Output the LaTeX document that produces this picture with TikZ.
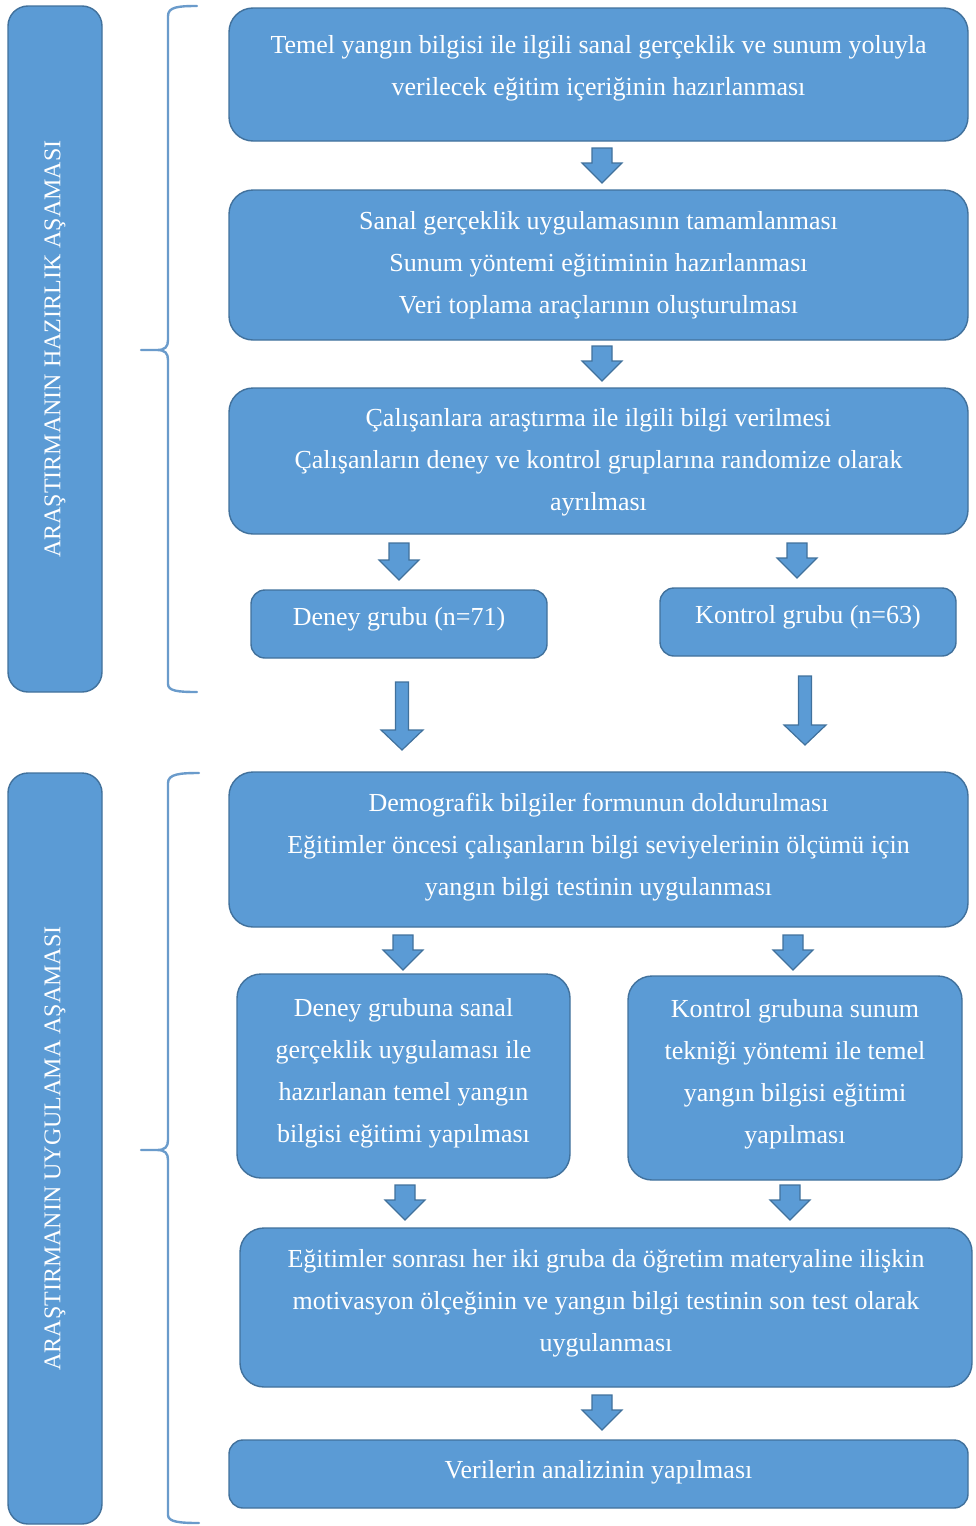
\documentclass[tikz,border=0pt]{standalone}
\usepackage{fontspec}
\setmainfont{Liberation Serif}
\usetikzlibrary{calc}
\definecolor{boxc}{HTML}{5B9BD5}
\definecolor{bordc}{HTML}{41719C}
\definecolor{bracec}{HTML}{6A9BCB}
\newcommand{\bigarrow}[5]{%
\draw[barrow] let \p1=(#1), \p2=(#2) in
 (\x1-#3,\y1) -- (\x1+#3,\y1) -- (\x1+#3,\y2+#5) -- (\x1+#4,\y2+#5) -- (\x2,\y2)
 -- (\x1-#4,\y2+#5) -- (\x1-#3,\y2+#5) -- cycle;}
\newcommand{\up}[2]{\raisebox{#1}[\height][\depth]{\begin{tabular}{@{}c@{}}#2\end{tabular}}}
\begin{document}
\begin{tikzpicture}[x=1pt,y=-1pt,
 box/.style={draw=bordc, fill=boxc, line width=1.4pt, rounded corners=24pt, text=white,
   align=center, font=\fontsize{26}{42}\selectfont, inner sep=0pt},
 smallbox/.style={box, rounded corners=14pt},
 sidebar/.style={draw=bordc, fill=boxc, line width=1.4pt, rounded corners=20pt, inner sep=0pt,
   minimum width=94pt},
 sidetext/.style={text=white, rotate=90, font=\fontsize{24}{28}\selectfont},
 barrow/.style={draw=bordc, fill=boxc, line width=1.2pt, line join=miter},
 bracestyle/.style={draw=bracec, line width=2.4pt, line cap=round, line join=round}]
\useasboundingbox (0,0) rectangle (975,1526);

% side bars
\node[sidebar, minimum height=686pt] (lb1) at (55,349) {};
\node[sidetext] (lt1) at (lb1.center) {ARAŞTIRMANIN HAZIRLIK AŞAMASI};
\node[sidebar, minimum height=751pt] (lb2) at (55,1148.5) {};
\node[sidetext] (lt2) at (lb2.center) {ARAŞTIRMANIN UYGULAMA AŞAMASI};

% braces
\draw[bracestyle] (197,6) .. controls (178,6) and (168,7) .. (168,16) -- (168,340)
  .. controls (168,347) and (165,350) .. (157,350) -- (141,350) -- (157,350)
  .. controls (165,350) and (168,353) .. (168,360) -- (168,684)
  .. controls (168,691) and (178,692) .. (197,692);
\draw[bracestyle] (199,773) .. controls (180,773) and (168,774) .. (168,783) -- (168,1140)
  .. controls (168,1147) and (165,1150) .. (157,1150) -- (141,1150) -- (157,1150)
  .. controls (165,1150) and (168,1153) .. (168,1160) -- (168,1515)
  .. controls (168,1522) and (180,1523) .. (199,1523);

% boxes
\node[box, minimum width=739pt, minimum height=133pt] (b1) at (598.5,74.5)
 {\up{8pt}{Temel yangın bilgisi ile ilgili sanal gerçeklik ve sunum yoluyla\\verilecek eğitim içeriğinin hazırlanması}};
\node[box, minimum width=739pt, minimum height=150pt] (b2) at (598.5,265)
 {\up{2pt}{Sanal gerçeklik uygulamasının tamamlanması\\Sunum yöntemi eğitiminin hazırlanması\\Veri toplama araçlarının oluşturulması}};
\node[box, minimum width=739pt, minimum height=146pt] (b3) at (598.5,461)
 {\up{1pt}{Çalışanlara araştırma ile ilgili bilgi verilmesi\\Çalışanların deney ve kontrol gruplarına randomize olarak\\ayrılması}};
\node[smallbox, minimum width=296pt, minimum height=68pt] (bd) at (399,624)
 {\up{7pt}{Deney grubu (n=71)}};
\node[smallbox, minimum width=296pt, minimum height=68pt] (bk) at (808,622)
 {\up{7pt}{Kontrol grubu (n=63)}};
\node[box, minimum width=739pt, minimum height=155pt] (b4) at (598.5,849.5)
 {\up{4pt}{Demografik bilgiler formunun doldurulması\\Eğitimler öncesi çalışanların bilgi seviyelerinin ölçümü için\\yangın bilgi testinin uygulanması}};
\node[box, minimum width=333pt, minimum height=204pt] (b5a) at (403.5,1076)
 {\up{5pt}{Deney grubuna sanal\\gerçeklik uygulaması ile\\hazırlanan temel yangın\\bilgisi eğitimi yapılması}};
\node[box, minimum width=334pt, minimum height=204pt] (b5b) at (795,1078)
 {\up{6pt}{Kontrol grubuna sunum\\tekniği yöntemi ile temel\\yangın bilgisi eğitimi\\yapılması}};
\node[box, minimum width=732pt, minimum height=159pt] (b6) at (606,1307.5)
 {\up{6pt}{Eğitimler sonrası her iki gruba da öğretim materyaline ilişkin\\motivasyon ölçeğinin ve yangın bilgi testinin son test olarak\\uygulanması}};
\node[smallbox, minimum width=739pt, minimum height=68pt] (b7) at (598.5,1474)
 {\up{4pt}{Verilerin analizinin yapılması}};

% arrow end points
\coordinate (a1s) at (602,148);  \coordinate (a1e) at (602,183);
\coordinate (a2s) at (602,346);  \coordinate (a2e) at (602,381);
\coordinate (a3s) at (399,543);  \coordinate (a3e) at (399,580);
\coordinate (a4s) at (797,543);  \coordinate (a4e) at (797,578);
\coordinate (a5s) at (402,682);  \coordinate (a5e) at (402,750);
\coordinate (a6s) at (805,676);  \coordinate (a6e) at (805,745);
\coordinate (a7s) at (403,935);  \coordinate (a7e) at (403,970);
\coordinate (a8s) at (793,935);  \coordinate (a8e) at (793,970);
\coordinate (a9s) at (405,1185); \coordinate (a9e) at (405,1220);
\coordinate (a10s) at (790,1185); \coordinate (a10e) at (790,1220);
\coordinate (a11s) at (602,1395); \coordinate (a11e) at (602,1430);

\bigarrow{a1s}{a1e}{10pt}{20pt}{20pt}
\bigarrow{a2s}{a2e}{10pt}{20pt}{20pt}
\bigarrow{a3s}{a3e}{10pt}{20pt}{20pt}
\bigarrow{a4s}{a4e}{10pt}{20pt}{20pt}
\bigarrow{a5s}{a5e}{6.5pt}{21pt}{20pt}
\bigarrow{a6s}{a6e}{6.5pt}{21pt}{20pt}
\bigarrow{a7s}{a7e}{10pt}{20pt}{20pt}
\bigarrow{a8s}{a8e}{10pt}{20pt}{20pt}
\bigarrow{a9s}{a9e}{10pt}{20pt}{20pt}
\bigarrow{a10s}{a10e}{10pt}{20pt}{20pt}
\bigarrow{a11s}{a11e}{10pt}{20pt}{20pt}
\end{tikzpicture}
\end{document}
